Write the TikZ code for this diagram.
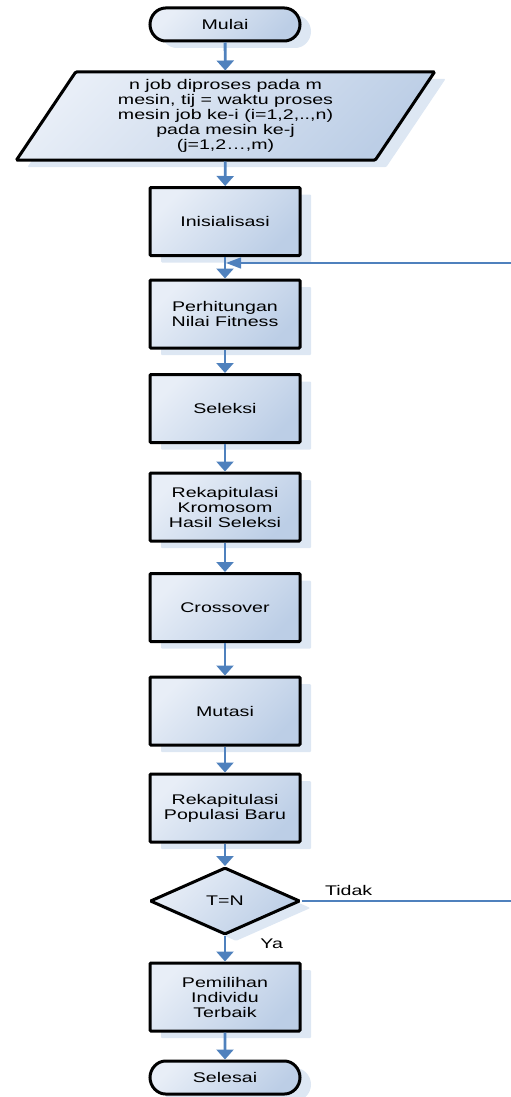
\documentclass[tikz,border=0pt]{standalone}
\usepackage{fontspec}
\setmainfont[FakeStretch=1.4]{Liberation Sans}
\usetikzlibrary{shapes.geometric,shapes.misc,shadows,arrows.meta}
\definecolor{boxlight}{RGB}{232,238,247}
\definecolor{boxdark}{RGB}{188,206,230}
\definecolor{shadowblue}{RGB}{221,231,243}
\definecolor{flowblue}{RGB}{79,129,189}
\begin{document}
\begin{tikzpicture}[x=1pt,y=-1pt,
    base/.style={draw=black, line width=3pt, rounded corners=1pt,
        top color=boxlight, bottom color=boxdark, shading angle=45,
        drop shadow={shadow xshift=11pt, shadow yshift=-7pt, fill=shadowblue, opacity=1},
        font=\fontsize{14}{15}\selectfont, align=center, inner sep=0pt},
    proc/.style={base, rectangle, minimum width=150pt, minimum height=68pt},
    term/.style={base, rounded rectangle, minimum width=150pt, minimum height=33pt},
    io/.style={base, trapezium, trapezium left angle=51, trapezium right angle=129,
        trapezium stretches body, minimum width=418pt, minimum height=88pt},
    decide/.style={base, diamond, minimum width=150pt, minimum height=67pt},
    flow/.style={flowblue, line width=2.8pt, -{Triangle[width=17pt,length=10pt]}},
    back/.style={flowblue, line width=1.3pt, -{Triangle[width=11pt,length=15pt]}},
    lbl/.style={text=black, font=\fontsize{14}{15}\selectfont, inner sep=0pt}]
    \useasboundingbox (0,0) rectangle (511,1097);

    \node[term] (mulai) at (225,24.5) {Mulai};
    \node[io] (input) at (225.5,116) {n job diproses pada m\\mesin, tij = waktu proses\\mesin job ke-i (i=1,2,..,n)\\pada mesin ke-j\\(j=1,2…,m)};
    \node[proc] (init) at (225,221.5) {Inisialisasi};
    \node[proc] (fitness) at (225,314) {Perhitungan\\Nilai Fitness};
    \node[proc] (seleksi) at (225,408.5) {Seleksi};
    \node[proc] (rekapkrom) at (225,507) {Rekapitulasi\\Kromosom\\Hasil Seleksi};
    \node[proc] (cross) at (225,607.5) {Crossover};
    \node[proc] (mutasi) at (225,711) {Mutasi};
    \node[proc] (rekappop) at (225,808) {Rekapitulasi\\Populasi Baru};
    \node[decide] (cek) at (225,901) {T=N};
    \node[proc] (pilih) at (225,997) {Pemilihan\\Individu\\Terbaik};
    \node[term] (selesai) at (225,1077.5) {Selesai};

    \draw[flow] (mulai) -- (input);
    \draw[flow] (input) -- (init);
    \draw[flow] (init) -- (fitness);
    \draw[flow] (fitness) -- (seleksi);
    \draw[flow] (seleksi) -- (rekapkrom);
    \draw[flow] (rekapkrom) -- (cross);
    \draw[flow] (cross) -- (mutasi);
    \draw[flow] (mutasi) -- (rekappop);
    \draw[flow] (rekappop) -- (cek);
    \draw[flow] (cek) -- (pilih) node[lbl, pos=0.3, right=34pt] {Ya};
    \draw[flow] (pilih) -- (selesai);

    % loop back
    \coordinate (ulang) at (226,263);
    \draw[back] (cek.east) -- (516,901) node[lbl, pos=0.22, above=5pt] {Tidak}
        -- (516,263) -- (ulang);
\end{tikzpicture}
\end{document}
